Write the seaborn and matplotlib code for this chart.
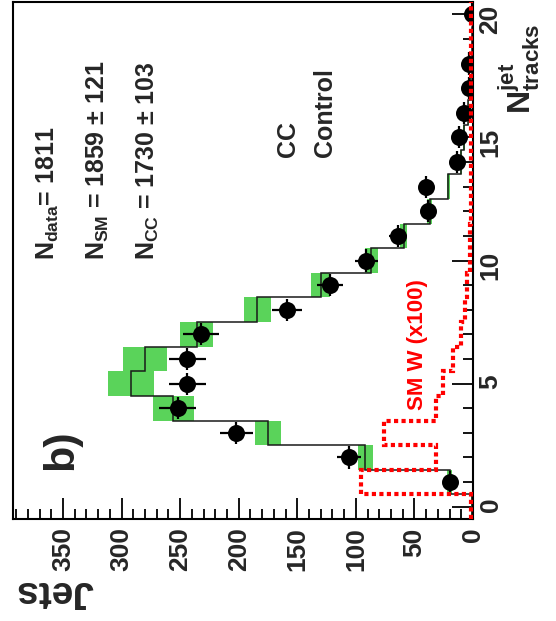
import numpy as np
import pandas as pd
import matplotlib
matplotlib.use("Agg")
import matplotlib.pyplot as plt
from matplotlib.ticker import MultipleLocator
import seaborn as sns

# ---------------- data ----------------
n_tracks = list(range(21))
data_jets = [0, 20, 106, 202, 252, 244, 244, 232, 159, 122, 91, 64, 38, 40, 14, 12, 8, 3, 3, 0, 1]
mc_jets = [1, 20, 92, 175, 256, 292, 280, 236, 184, 130, 87, 59, 37, 21, 10, 8, 4, 2, 1, 0.5, 0.3]
mc_err = [0.3, 2, 6.5, 11, 17.5, 20, 19, 14, 11.5, 8, 5.5, 3, 2, 1.5, 1, 0.8, 0.5, 0.3, 0.2, 0.1, 0.1]
smw_x100 = [1.5, 96, 32, 76, 32, 26, 17, 10, 7, 5, 2.5, 2.5, 2, 1.5, 1.5, 1.5, 1.5, 1.5, 1.5, 1.5, 1.5]
jets_ticks = [0, 50, 100, 150, 200, 250, 300, 350]
ntrk_ticks = [0, 5, 10, 15, 20]

# ---------------- style ----------------
sns.set_style("ticks")
plt.rcParams["font.family"] = ["Liberation Sans", "DejaVu Sans"]
plt.rcParams["font.weight"] = "bold"
plt.rcParams["mathtext.fontset"] = "custom"
plt.rcParams["mathtext.rm"] = "Liberation Sans:bold"
plt.rcParams["mathtext.bf"] = "Liberation Sans:bold"
plt.rcParams["mathtext.it"] = "Liberation Sans:bold"
plt.rcParams["mathtext.default"] = "bf"

W, H = 556, 621
fig = plt.figure(figsize=(W / 100, H / 100), dpi=100)
fig.patch.set_facecolor("white")


def px(x, y):
    return x / W, 1 - y / H


L, R, T, B = 12.7, 473, 2, 519
ax = fig.add_axes([L / W, 1 - B / H, (R - L) / W, (B - T) / H])
ax.set_facecolor("white")

edges = np.arange(-0.5, 21.0, 1.0)
n_arr = np.array(n_tracks, dtype=float)
mc = np.array(mc_jets, dtype=float)
err = np.array(mc_err, dtype=float)
dat = np.array(data_jets, dtype=float)

# MC uncertainty band
ax.barh(n_arr, width=2 * err, left=mc - err, height=1.0, color="#5ad35a",
        linewidth=0, zorder=1)
# MC histogram
ax.stairs(mc, edges, orientation="horizontal", baseline=None,
          color="#1a1a1a", linewidth=1.1, zorder=2)

# data points
df = pd.DataFrame({"n": n_arr, "jets": dat})
nz = df[df["jets"] > 0]
ax.errorbar(df["jets"], df["n"], xerr=np.sqrt(df["jets"]), yerr=0.45,
            fmt="none", ecolor="black", elinewidth=1.6, capsize=0, zorder=3)
sns.scatterplot(data=nz, x="jets", y="n", s=150, color="black",
                edgecolor="black", linewidth=0, ax=ax, zorder=4, legend=False)

# SM W (x100)
ax.stairs(np.array(smw_x100), edges, orientation="horizontal", baseline=None,
          color="#ff0000", linewidth=3.0, linestyle=(0, (1, 0.8)), zorder=5)

# axes
ax.set_xlim(393, 0)
ax.set_ylim(-0.5, 20.5)
ax.set_xlabel("")
ax.set_ylabel("")
ax.yaxis.tick_right()
ax.set_xticks(jets_ticks)
ax.set_xticklabels([str(t) for t in jets_ticks])
ax.set_yticks(ntrk_ticks)
ax.set_yticklabels([str(t) for t in ntrk_ticks])
ax.xaxis.set_minor_locator(MultipleLocator(10))
ax.yaxis.set_minor_locator(MultipleLocator(1))
ax.tick_params(which="both", direction="in", bottom=True, top=False,
               left=False, right=True, width=1.3, color="black")
ax.tick_params(which="major", length=15)
ax.tick_params(which="minor", length=7.5)
ax.tick_params(axis="x", which="major", labelrotation=90, labelsize=19, pad=6)
ax.tick_params(axis="y", which="major", labelrotation=90, labelsize=19, pad=4)
for lab in ax.get_xticklabels() + ax.get_yticklabels():
    lab.set_fontweight("bold")
for sp in ax.spines.values():
    sp.set_visible(True)
    sp.set_linewidth(1.5)
    sp.set_color("black")

# texts (rotated like the reference)
kw = dict(rotation_mode="anchor", ha="left", va="baseline")
fig.text(*px(93, 581), "Jets", rotation=180, fontsize=28, fontweight="bold", **kw)
fig.text(*px(531, 114), r"$\mathbf{N}^{\mathbf{jet}}_{\mathbf{tracks}}$",
         rotation=90, fontsize=23, **kw)
fig.text(*px(55, 260), r"$\mathbf{N_{data}}$= 1811", rotation=90,
         fontsize=18, fontweight="bold", **kw)
fig.text(*px(105, 260), r"$\mathbf{N_{SM}}$ = 1859 $\pm$ 121", rotation=90,
         fontsize=18, fontweight="bold", **kw)
fig.text(*px(155, 260), r"$\mathbf{N_{CC}}$ = 1730 $\pm$ 103", rotation=90,
         fontsize=18, fontweight="bold", **kw)
fig.text(*px(295, 157), "CC", rotation=90, fontsize=18, fontweight="bold", **kw)
fig.text(*px(332, 157), "Control", rotation=90, fontsize=18, fontweight="bold", **kw)
fig.text(*px(72, 470), "b)", rotation=90, fontsize=31, fontweight="bold", **kw)
fig.text(*px(423, 410), "SM W (x100)", rotation=90, fontsize=16,
         fontweight="bold", color="#ff0000", **kw)

fig.savefig("out.png", dpi=100, facecolor="white")
